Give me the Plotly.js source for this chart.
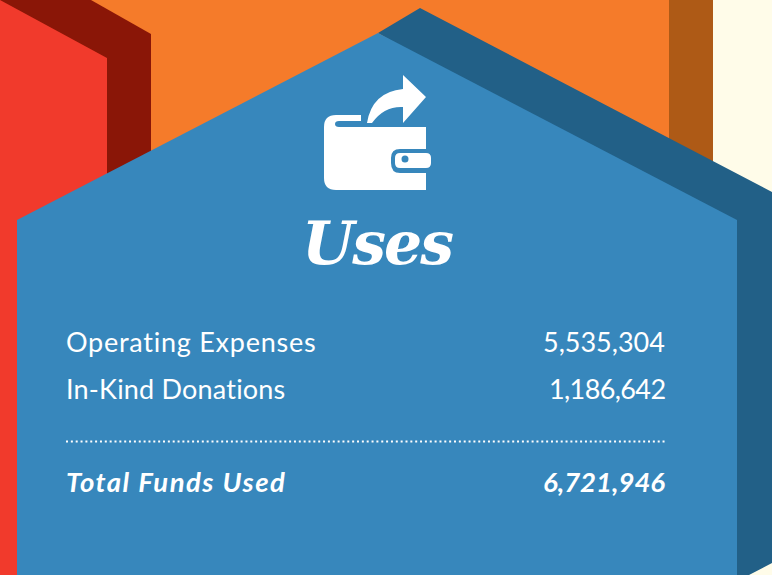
<!DOCTYPE html>
<html>
<head>
<meta charset="utf-8">
<script src="https://cdn.plot.ly/plotly-3.0.1.min.js"></script>
<style>html,body{margin:0;padding:0;background:#fff;overflow:hidden}#c{width:772px;height:575px}</style>
</head>
<body>
<div id="c"></div>
<script>
const heading = "Uses";
const itemLabels = ["Operating Expenses", "In-Kind Donations"];
const itemValues = [5535304, 1186642];
const totalLabel = "Total Funds Used";
const totalValue = 6721946;

const RED = "#F13A2C", DARKRED = "#8A1607", ORANGE = "#F57B2A", BROWN = "#AE5A16",
      CREAM = "#FFFCE9", BLUE = "#3787BC", DARKBLUE = "#226087";
const fmt = n => n.toLocaleString("en-US");
const BODY = "Lato, 'Open Sans', sans-serif";

function poly(path, color) {
  return {type: "path", xref: "x", yref: "y", path, fillcolor: color, line: {width: 0}, layer: "below"};
}
const shapes = [
  poly("M0,0 H772 V575 H0 Z", ORANGE),
  poly("M713,0 H772 V575 H713 Z", CREAM),
  poly("M669,0 H713 V200 H669 Z", BROWN),
  poly("M0,0 H91 L151,34 V200 H0 Z", DARKRED),
  poly("M0,0 L107,58 V200 L40,240 V575 H0 Z", RED),
  poly("M378,33 L420,8 L772,192 V563 L749,575 H700 V220 Z", DARKBLUE),
  poly("M17,220 L378,33 L737,220 V575 H17 Z", BLUE),
  // wallet
  poly("M336,115 H361 V121 H339 Q335,121 335,124 Q335,127 339,127 H426 V149 H400 Q391,149 391,158 V163 Q391,173 400,173 H426 V190 H336 Q324,190 324,178 V127 Q324,115 336,115 Z", "#FFFFFF"),
  poly("M400,153 H426 Q431,153 431,158 V163 Q431,168 426,168 H400 Q395,168 395,163 V158 Q395,153 400,153 Z", "#FFFFFF"),
  {type: "circle", xref: "x", yref: "y", x0: 401.5, x1: 408.5, y0: 155.5, y1: 162.5, fillcolor: BLUE, line: {width: 0}, layer: "below"},
  // arrow
  poly("M403,75 L426,97 L403,123 V107 Q384,106 372,123 H367 Q372,92 403,89 Z", "#FFFFFF"),
  // dotted rule
  {type: "line", xref: "x", yref: "y", x0: 66, x1: 665, y0: 441.5, y1: 441.5, line: {color: "#FFFFFF", width: 2.2, dash: "2px,2.85px"}, layer: "below"}
];

const annotations = [];
function txt(text, x, y, anchor, font, spacing) {
  annotations.push({text: '<span style="letter-spacing:' + spacing + 'px">' + text + '</span>', x, y, xref: "x", yref: "y", xanchor: anchor, yanchor: "middle",
    showarrow: false, borderpad: 0, font: Object.assign({color: "#FFFFFF"}, font)});
}
const rowFont = {family: BODY, size: 27};
const labelSpacing = [0.75, 0.2], valueSpacing = [0, -0.6];
itemLabels.forEach((l, i) => {
  const y = 341 + i * 47;
  txt(l, 64.5, y, "left", rowFont, labelSpacing[i]);
  txt(fmt(itemValues[i]), 666, y, "right", rowFont, valueSpacing[i]);
});
const totFont = {family: BODY, size: 27.5, weight: 700, style: "italic"};
txt(totalLabel, 65, 481, "left", totFont, 1.5);
txt(fmt(totalValue), 666, 481, "right", totFont, 0);
txt(heading, 377, 243, "center", {family: "'DejaVu Serif', serif", size: 60, weight: 700, style: "italic"}, -2);

Plotly.newPlot("c", [], {
  width: 772, height: 575,
  margin: {l: 0, r: 0, t: 0, b: 0},
  paper_bgcolor: ORANGE, plot_bgcolor: "rgba(0,0,0,0)",
  showlegend: false,
  xaxis: {range: [0, 772], visible: false, fixedrange: true},
  yaxis: {range: [575, 0], visible: false, fixedrange: true},
  shapes, annotations
}, {displayModeBar: false, staticPlot: true});
</script>
</body>
</html>
